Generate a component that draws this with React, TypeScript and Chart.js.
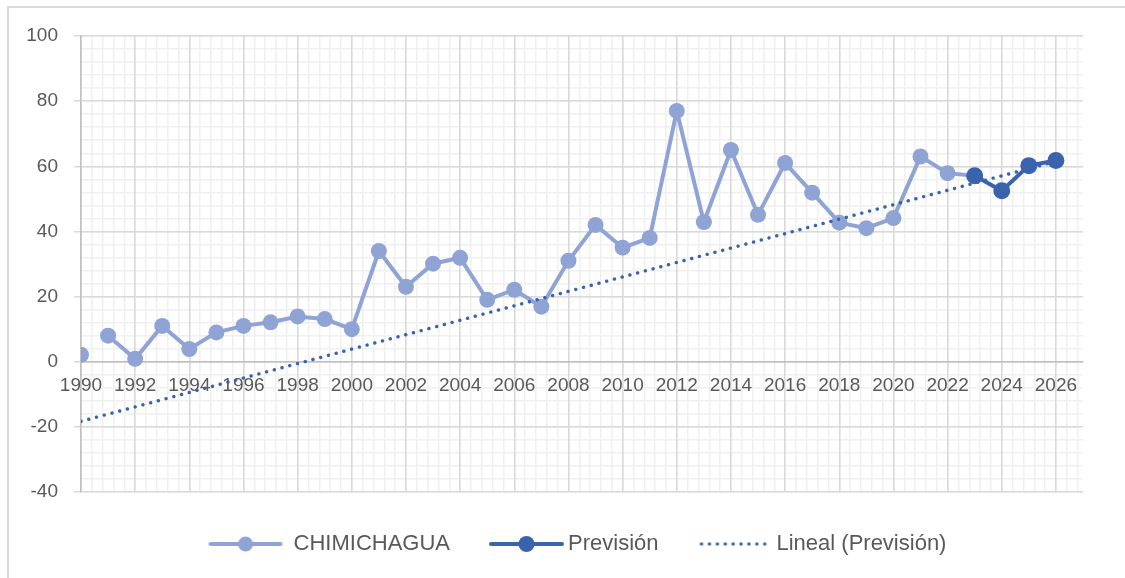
import { useEffect, useRef } from 'react';
import { Chart, registerables } from 'chart.js';

Chart.register(...registerables);

// ---- data ----
const years = [
  1990, 1991, 1992, 1993, 1994, 1995, 1996, 1997, 1998, 1999,
  2000, 2001, 2002, 2003, 2004, 2005, 2006, 2007, 2008, 2009,
  2010, 2011, 2012, 2013, 2014, 2015, 2016, 2017, 2018, 2019,
  2020, 2021, 2022, 2023,
];
const chimichagua = [
  2.1, 8, 0.9, 11, 3.9, 9, 11, 12.1, 13.9, 13.1,
  10, 34, 23, 30.1, 31.9, 19, 22.1, 16.9, 31, 42,
  35, 38, 77, 42.9, 65, 45.1, 61, 51.9, 42.7, 41,
  44.1, 63, 57.9, 57.1,
];
const previsionYears = [2023, 2024, 2025, 2026];
const prevision = [57.1, 52.5, 60.2, 61.8];
const trendYears = [1990, 2026];
const trendValues = [-18.3, 61.5];
const seriesNames = ['CHIMICHAGUA', 'Previsión', 'Lineal (Previsión)'];

const X_MIN = 1990;
const X_MAX = 2027;
const Y_MIN = -40;
const Y_MAX = 100;

const LIGHT = '#8FA3D5';
const DARK = '#3A63AE';
const TEXT = '#595959';
const FONT = "'Liberation Sans', Arial, sans-serif";

function makeSample(draw: (ctx: CanvasRenderingContext2D) => void) {
  const c = document.createElement('canvas');
  c.width = 160;
  c.height = 22;
  const ctx = c.getContext('2d') as CanvasRenderingContext2D;
  draw(ctx);
  return c;
}

function lineMarker(color: string, x0: number, x1: number, r: number) {
  return makeSample((ctx) => {
    ctx.strokeStyle = color;
    ctx.lineWidth = 4;
    ctx.lineCap = 'round';
    ctx.beginPath();
    ctx.moveTo(x0, 11);
    ctx.lineTo(x1, 11);
    ctx.stroke();
    ctx.fillStyle = color;
    ctx.beginPath();
    ctx.arc((x0 + x1) / 2, 11, r, 0, Math.PI * 2);
    ctx.fill();
  });
}

function dotted(color: string, x0: number, x1: number) {
  return makeSample((ctx) => {
    ctx.strokeStyle = color;
    ctx.lineWidth = 3.4;
    ctx.lineCap = 'round';
    ctx.setLineDash([0.1, 7.8]);
    ctx.beginPath();
    ctx.moveTo(x0, 11);
    ctx.lineTo(x1, 11);
    ctx.stroke();
  });
}

export default function App() {
  const ref = useRef<HTMLCanvasElement | null>(null);

  useEffect(() => {
    if (!ref.current) return;
    const samples = [
      lineMarker(LIGHT, 48, 118, 7.5),
      lineMarker(DARK, 54, 125, 8),
      dotted(DARK, 56, 120),
    ];
    const colors = [LIGHT, DARK, DARK];

    const legendShift = {
      id: 'legendShift',
      afterLayout(chart: any) {
        const l = chart.legend;
        if (l) {
          l.left += 28.5;
          l.right += 28.5;
        }
      },
    };

    const chart = new Chart(ref.current, {
      type: 'line',
      data: {
        datasets: [
          {
            label: seriesNames[0],
            data: years.map((x, i) => ({ x, y: chimichagua[i] })),
            borderColor: LIGHT,
            backgroundColor: LIGHT,
            borderWidth: 4,
            pointRadius: 8,
            pointBorderWidth: 0,
            pointBackgroundColor: LIGHT,
            order: 3,
            segment: {
              borderColor: (ctx: any) => (ctx.p0DataIndex === 0 ? 'rgba(0,0,0,0)' : undefined),
            },
          },
          {
            label: seriesNames[1],
            data: previsionYears.map((x, i) => ({ x, y: prevision[i] })),
            borderColor: DARK,
            backgroundColor: DARK,
            borderWidth: 4,
            pointRadius: 8.5,
            pointBorderWidth: 0,
            pointBackgroundColor: DARK,
            order: 2,
          },
          {
            label: seriesNames[2],
            data: trendYears.map((x, i) => ({ x, y: trendValues[i] })),
            borderColor: DARK,
            borderWidth: 3.4,
            borderCapStyle: 'round',
            borderDash: [0.1, 7.9],
            pointRadius: 0,
            order: 1,
          },
        ],
      },
      options: {
        animation: false,
        responsive: false,
        devicePixelRatio: 1,
        events: [],
        layout: { padding: { left: 0, right: 34, top: 28, bottom: 3 } },
        scales: {
          x: {
            type: 'linear',
            min: X_MIN,
            max: X_MAX,
            position: { y: 0 },
            ticks: {
              stepSize: 2,
              includeBounds: false,
              autoSkip: false,
              maxRotation: 0,
              maxTicksLimit: 1000,
              color: TEXT,
              padding: 8,
              font: { family: FONT, size: 19 },
              callback: (v: any) => String(v),
            },
            grid: { color: '#d9d9d9', lineWidth: 1.5, tickLength: 5 },
            border: { color: '#bfbfbf', width: 1.5 },
          },
          xMinor: {
            type: 'linear',
            min: X_MIN,
            max: X_MAX,
            position: 'bottom',
            ticks: { display: false, stepSize: 0.4, includeBounds: false, maxTicksLimit: 1000 },
            grid: { color: '#f0f0f0', lineWidth: 1.5, drawTicks: false, z: -2 },
            border: { display: false },
            afterFit: (s: any) => {
              s.height = 14;
            },
          },
          y: {
            type: 'linear',
            min: Y_MIN,
            max: Y_MAX,
            position: 'left',
            ticks: {
              stepSize: 20,
              color: TEXT,
              padding: 16,
              font: { family: FONT, size: 19 },
            },
            grid: { color: '#d9d9d9', lineWidth: 1.5, tickLength: 7 },
            border: { color: '#bfbfbf', width: 1.5 },
            afterFit: (s: any) => {
              s.width = 72;
            },
          },
          yMinor: {
            type: 'linear',
            min: Y_MIN,
            max: Y_MAX,
            position: 'left',
            ticks: { display: false, stepSize: 4, maxTicksLimit: 1000 },
            grid: { color: '#f0f0f0', lineWidth: 1.5, drawTicks: false, z: -2 },
            border: { display: false },
            afterFit: (s: any) => {
              s.width = 0;
            },
          },
        },
        plugins: {
          tooltip: { enabled: false },
          legend: {
            position: 'bottom',
            align: 'center',
            labels: {
              usePointStyle: true,
              pointStyleWidth: 80,
              padding: 27,
              color: TEXT,
              font: { family: FONT, size: 22 },
              generateLabels: () =>
                seriesNames.map((text, i) => ({
                  text,
                  pointStyle: samples[i],
                  fillStyle: colors[i],
                  strokeStyle: colors[i],
                  lineWidth: 0,
                  hidden: false,
                  datasetIndex: i,
                  fontColor: TEXT,
                })),
            },
          },
        },
      },
      plugins: [legendShift],
    } as any);

    return () => chart.destroy();
  }, []);

  return (
    <div
      style={{
        position: 'absolute',
        left: 7,
        top: 6,
        width: 1116,
        height: 570,
        overflow: 'hidden',
        borderTop: '2px solid #d9d9d9',
        borderLeft: '2px solid #d9d9d9',
      }}
    >
      <canvas ref={ref} width={1108} height={560} style={{ display: 'block' }} />
    </div>
  );
}
